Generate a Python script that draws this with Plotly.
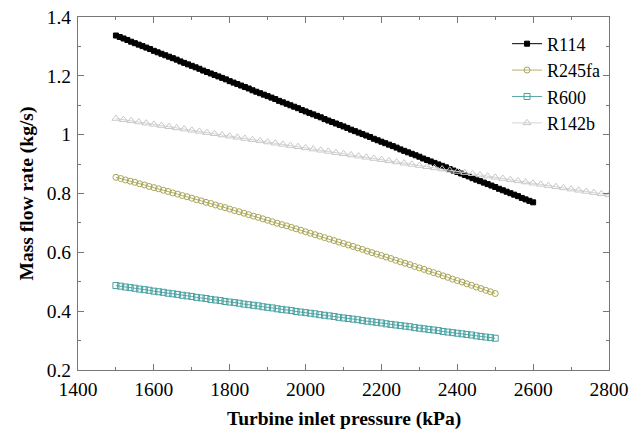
import numpy as np
import plotly.graph_objects as go

# Turbine inlet pressure grids (kPa)
p_r114 = np.arange(1500, 2600 + 1, 10)
p_r245fa = np.linspace(1500, 2500, 81)
p_r600 = np.linspace(1500, 2500, 81)
p_r142b = np.arange(1500, 2800 + 1, 20)

# Mass flow rate (kg/s)
m_r114 = [
    1.337, 1.332, 1.327, 1.322, 1.316, 1.311, 1.306, 1.301, 1.296, 1.291,
    1.285, 1.280, 1.275, 1.270, 1.265, 1.260, 1.255, 1.249, 1.244, 1.239,
    1.234, 1.229, 1.224, 1.218, 1.213, 1.208, 1.203, 1.198, 1.193, 1.188,
    1.182, 1.177, 1.172, 1.167, 1.162, 1.157, 1.151, 1.146, 1.141, 1.136,
    1.131, 1.126, 1.121, 1.115, 1.110, 1.105, 1.100, 1.095, 1.090, 1.084,
    1.079, 1.074, 1.069, 1.064, 1.059, 1.053, 1.048, 1.043, 1.038, 1.033,
    1.028, 1.023, 1.017, 1.012, 1.007, 1.002, 0.997, 0.992, 0.986, 0.981,
    0.976, 0.971, 0.966, 0.961, 0.956, 0.950, 0.945, 0.940, 0.935, 0.930,
    0.925, 0.919, 0.914, 0.909, 0.904, 0.899, 0.894, 0.889, 0.883, 0.878,
    0.873, 0.868, 0.863, 0.858, 0.852, 0.847, 0.842, 0.837, 0.832, 0.827,
    0.822, 0.816, 0.811, 0.806, 0.801, 0.796, 0.791, 0.785, 0.780, 0.775,
    0.770,
]
m_r245fa = [
    0.855, 0.851, 0.846, 0.842, 0.838, 0.833, 0.829, 0.824, 0.820, 0.816,
    0.811, 0.807, 0.802, 0.798, 0.793, 0.789, 0.784, 0.779, 0.775, 0.770,
    0.766, 0.761, 0.756, 0.752, 0.747, 0.742, 0.738, 0.733, 0.728, 0.723,
    0.719, 0.714, 0.709, 0.704, 0.699, 0.694, 0.690, 0.685, 0.680, 0.675,
    0.670, 0.665, 0.660, 0.655, 0.650, 0.645, 0.640, 0.635, 0.630, 0.625,
    0.620, 0.615, 0.610, 0.604, 0.599, 0.594, 0.589, 0.584, 0.579, 0.573,
    0.568, 0.563, 0.558, 0.552, 0.547, 0.542, 0.536, 0.531, 0.526, 0.520,
    0.515, 0.509, 0.504, 0.499, 0.493, 0.488, 0.482, 0.477, 0.471, 0.466,
    0.460,
]
m_r600 = [
    0.487, 0.485, 0.482, 0.480, 0.478, 0.475, 0.473, 0.471, 0.468, 0.466,
    0.464, 0.461, 0.459, 0.457, 0.454, 0.452, 0.450, 0.447, 0.445, 0.443,
    0.440, 0.438, 0.436, 0.433, 0.431, 0.429, 0.427, 0.424, 0.422, 0.420,
    0.418, 0.415, 0.413, 0.411, 0.408, 0.406, 0.404, 0.402, 0.399, 0.397,
    0.395, 0.393, 0.391, 0.388, 0.386, 0.384, 0.382, 0.379, 0.377, 0.375,
    0.373, 0.371, 0.368, 0.366, 0.364, 0.362, 0.360, 0.357, 0.355, 0.353,
    0.351, 0.349, 0.347, 0.344, 0.342, 0.340, 0.338, 0.336, 0.334, 0.331,
    0.329, 0.327, 0.325, 0.323, 0.321, 0.319, 0.316, 0.314, 0.312, 0.310,
    0.308,
]
m_r142b = [
    1.055, 1.051, 1.047, 1.043, 1.039, 1.035, 1.031, 1.027, 1.023, 1.019,
    1.015, 1.011, 1.007, 1.003, 0.999, 0.995, 0.991, 0.987, 0.983, 0.979,
    0.975, 0.971, 0.967, 0.963, 0.959, 0.955, 0.951, 0.947, 0.943, 0.939,
    0.935, 0.931, 0.927, 0.923, 0.919, 0.915, 0.911, 0.907, 0.903, 0.899,
    0.895, 0.891, 0.887, 0.883, 0.879, 0.875, 0.871, 0.867, 0.863, 0.859,
    0.855, 0.851, 0.847, 0.843, 0.839, 0.835, 0.831, 0.827, 0.823, 0.819,
    0.815, 0.811, 0.807, 0.803, 0.799, 0.795,
]

FONT = "Liberation Serif, Times New Roman, serif"

fig = go.Figure()
fig.add_trace(go.Scatter(
    x=p_r114, y=m_r114, name="R114", mode="lines+markers",
    line=dict(color="#000000", width=1),
    marker=dict(symbol="square", size=5, color="#000000",
                line=dict(color="#000000", width=1)),
))
fig.add_trace(go.Scatter(
    x=p_r245fa, y=m_r245fa, name="R245fa", mode="lines+markers",
    line=dict(color="#b3b06a", width=1),
    marker=dict(symbol="circle-open", size=6, color="#a8a555",
                line=dict(width=1)),
))
fig.add_trace(go.Scatter(
    x=p_r600, y=m_r600, name="R600", mode="lines+markers",
    line=dict(color="#5aa8a8", width=1),
    marker=dict(symbol="square-open", size=6, color="#46a0a0",
                line=dict(width=1)),
))
fig.add_trace(go.Scatter(
    x=p_r142b, y=m_r142b, name="R142b", mode="lines+markers",
    line=dict(color="#d6d6d6", width=1),
    marker=dict(symbol="triangle-up-open", size=7, color="#c8c8c8",
                line=dict(width=1)),
))

axis_common = dict(
    showline=True, linecolor="#777777", linewidth=1, mirror="allticks",
    ticks="inside", ticklen=6, tickcolor="#777777", tickwidth=1,
    showgrid=False, zeroline=False, automargin=False,
    tickfont=dict(family=FONT, size=19.5, color="#000000"),
)

fig.update_xaxes(
    range=[1400, 2800], dtick=200, tick0=1400,
    minor=dict(ticks="inside", ticklen=3, dtick=100, tickcolor="#777777"),
    ticklabelstandoff=2,
    **axis_common,
)
fig.update_yaxes(
    range=[0.2, 1.4], dtick=0.2, tick0=0.2,
    minor=dict(ticks="inside", ticklen=3, dtick=0.1, tickcolor="#777777"),
    ticklabelstandoff=2,
    title=dict(text="<b>Mass flow rate (kg/s)</b>",
               font=dict(family=FONT, size=19.5, color="#000000"), standoff=7),
    **axis_common,
)

# x-axis title placed as a paper-anchored label below the tick labels
fig.add_annotation(
    text="<b>Turbine inlet pressure (kPa)</b>",
    xref="paper", yref="paper", x=0.5, y=-0.138,
    xanchor="center", yanchor="middle", showarrow=False,
    font=dict(family=FONT, size=19.5, color="#000000"),
)

fig.update_layout(
    width=638, height=433,
    margin=dict(l=78, r=29, t=17, b=63),
    paper_bgcolor="#ffffff", plot_bgcolor="#ffffff",
    showlegend=True,
    legend=dict(
        x=0.808, y=0.976, xanchor="left", yanchor="top",
        bgcolor="rgba(0,0,0,0)", borderwidth=0,
        font=dict(family=FONT, size=18, color="#000000"),
        tracegroupgap=0,
    ),
)

fig.write_html("out.html")
